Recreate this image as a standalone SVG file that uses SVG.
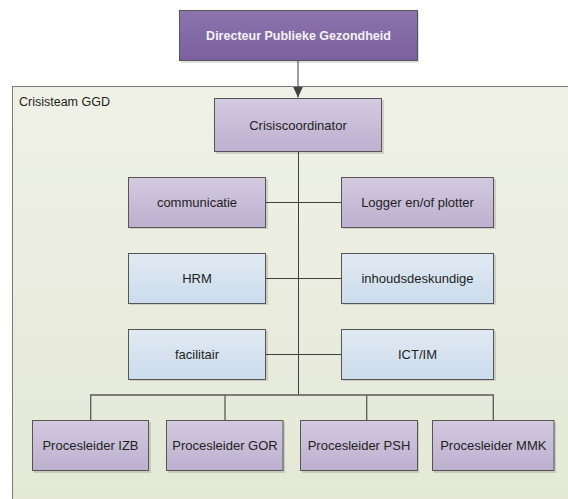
<svg xmlns="http://www.w3.org/2000/svg" width="568" height="499" viewBox="0 0 568 499">
<defs>
<linearGradient id="gDir" x1="0" y1="0" x2="0" y2="1"><stop offset="0" stop-color="#8b75ab"/><stop offset="1" stop-color="#7a609f"/></linearGradient>
<linearGradient id="gPur" x1="0" y1="0" x2="0" y2="1"><stop offset="0" stop-color="#d3cadf"/><stop offset="1" stop-color="#bdb0d0"/></linearGradient>
<linearGradient id="gBlu" x1="0" y1="0" x2="0" y2="1"><stop offset="0" stop-color="#e1eaf3"/><stop offset="1" stop-color="#cbdcec"/></linearGradient>
<linearGradient id="gCon" x1="0" y1="0" x2="0" y2="1"><stop offset="0" stop-color="#eff1e7"/><stop offset="1" stop-color="#e4e8d5"/></linearGradient>
<marker id="arr" viewBox="0 0 11 10" refX="11" refY="5" markerWidth="11" markerHeight="10" markerUnits="userSpaceOnUse" orient="auto">
<path d="M0,0 L11,5 L0,10 Z" fill="#404040"/>
</marker>
</defs>
<style>
.sh{fill:#000;opacity:0.13}
.box{stroke:#555;stroke-width:1}
.dir{fill:url(#gDir)}
.pur{fill:url(#gPur)}
.blu{fill:url(#gBlu)}
.t{font-family:"Liberation Sans",Arial,sans-serif;font-size:13px;fill:#1e1e1e;text-anchor:middle}
.tb{font-family:"Liberation Sans",Arial,sans-serif;font-size:12.5px;font-weight:bold;fill:#f4f2f8;text-anchor:middle}
.lbl{font-family:"Liberation Sans",Arial,sans-serif;font-size:12.5px;fill:#1e1e1e}
.c{fill:none;stroke:#404040;stroke-width:1}
.bus{fill:none;stroke:#5a5a5a;stroke-width:1.3}
</style>
<rect width="568" height="499" fill="#ffffff"/>
<g id="crisisteam">
<rect x="12.5" y="86.5" width="570" height="430" fill="url(#gCon)" stroke="#7a7a7a" stroke-width="1"/>
<text class="lbl" x="19" y="106">Crisisteam GGD</text>
</g>
<g id="connectors">
<line class="c" x1="298" y1="61" x2="298" y2="97.5" marker-end="url(#arr)"/>
<line class="c" x1="298.5" y1="152" x2="298.5" y2="395"/>
<line class="c" x1="266" y1="202.5" x2="341" y2="202.5"/>
<line class="c" x1="266" y1="278.5" x2="341" y2="278.5"/>
<line class="c" x1="266" y1="354.5" x2="341" y2="354.5"/>
<path class="bus" d="M90.7,420 V395 H493.3 V420 M225,395 V420 M366.7,395 V420"/>
</g>
<g id="directeur">
<rect class="sh" x="181" y="12" width="238" height="51"/>
<rect class="box dir" x="179.5" y="10.5" width="238" height="50"/>
<text class="tb" x="298.5" y="40">Directeur Publieke Gezondheid</text>
</g>
<g id="crisiscoordinator">
<rect class="sh" x="216" y="100" width="168" height="54"/>
<rect class="box pur" x="214.5" y="98.5" width="167" height="53"/>
<text class="t" x="298" y="129.5">Crisiscoordinator</text>
</g>
<g id="communicatie">
<rect class="sh" x="130" y="179" width="138" height="50"/>
<rect class="box pur" x="128.5" y="177.5" width="137" height="50"/>
<text class="t" x="197" y="207">communicatie</text>
</g>
<g id="logger">
<rect class="sh" x="343" y="179" width="153" height="50"/>
<rect class="box pur" x="341.5" y="177.5" width="152" height="50"/>
<text class="t" x="417.5" y="207">Logger en/of plotter</text>
</g>
<g id="hrm">
<rect class="sh" x="130" y="255" width="138" height="50"/>
<rect class="box blu" x="128.5" y="253.5" width="137" height="50"/>
<text class="t" x="197" y="283">HRM</text>
</g>
<g id="inhoudsdeskundige">
<rect class="sh" x="343" y="255" width="153" height="50"/>
<rect class="box blu" x="341.5" y="253.5" width="152" height="50"/>
<text class="t" x="417.5" y="283">inhoudsdeskundige</text>
</g>
<g id="facilitair">
<rect class="sh" x="130" y="331" width="138" height="50"/>
<rect class="box blu" x="128.5" y="329.5" width="137" height="50"/>
<text class="t" x="197" y="359">facilitair</text>
</g>
<g id="ictim">
<rect class="sh" x="343" y="331" width="153" height="50"/>
<rect class="box blu" x="341.5" y="329.5" width="152" height="50"/>
<text class="t" x="417.5" y="359">ICT/IM</text>
</g>
<g id="izb">
<rect class="sh" x="34" y="422" width="117" height="51"/>
<rect class="box pur" x="32.5" y="420.5" width="116" height="50"/>
<text class="t" x="90.5" y="450">Procesleider IZB</text>
</g>
<g id="gor">
<rect class="sh" x="168" y="422" width="117" height="51"/>
<rect class="box pur" x="166.5" y="420.5" width="116.5" height="50"/>
<text class="t" x="225" y="450">Procesleider GOR</text>
</g>
<g id="psh">
<rect class="sh" x="302" y="422" width="117" height="51"/>
<rect class="box pur" x="300.5" y="420.5" width="117" height="50"/>
<text class="t" x="359" y="450">Procesleider PSH</text>
</g>
<g id="mmk">
<rect class="sh" x="434" y="422" width="122" height="51"/>
<rect class="box pur" x="432.5" y="420.5" width="121.5" height="50"/>
<text class="t" x="493.3" y="450">Procesleider MMK</text>
</g>
</svg>
